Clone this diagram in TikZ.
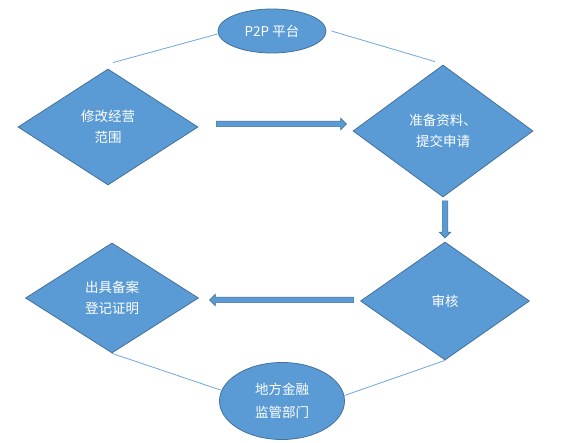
\documentclass[tikz,border=0pt]{standalone}
\usepackage{fontspec}
\newfontfamily\cjk{Noto Sans CJK SC}
\usetikzlibrary{shapes.geometric,shapes.arrows}
\definecolor{ShapeFill}{HTML}{5B9BD5}
\definecolor{ShapeEdge}{HTML}{41719C}
\definecolor{LinkLine}{HTML}{6FA6DC}

\begin{document}
\begin{tikzpicture}[x=1pt, y=-1pt,
		stage/.style={diamond, draw=ShapeEdge, fill=ShapeFill, line width=0.8pt, text=white, align=center, inner sep=0pt, font=\cjk\fontsize{13.5}{21}\selectfont},
		party/.style={ellipse, draw=ShapeEdge, fill=ShapeFill, line width=0.8pt, text=white, align=center, inner sep=0pt, font=\cjk\fontsize{13.5}{23}\selectfont},
		link/.style={LinkLine, line width=0.8pt},
		flow/.style={single arrow, draw=ShapeEdge, fill=ShapeFill, line width=0.6pt, inner sep=2.4pt, minimum width=11pt, single arrow head extend=3pt, single arrow head indent=0pt}]
		\useasboundingbox (0,0) rectangle (562,443);
		
		% Parties
		\node[party, minimum width=108pt, minimum height=44pt] (ptop) at (272,31) {P2P 平台};
		\node[party, minimum width=125pt, minimum height=77pt] (pbot) at (282,401) {地方金融\\监管部门};
		
		% Stages
		\node[stage, minimum width=180pt, minimum height=116pt] (xg) at (108,127) {修改经营\\范围};
		\node[stage, minimum width=180pt, minimum height=132pt] (zb) at (443,131) {准备资料、\\提交申请};
		\node[stage, minimum width=169pt, minimum height=118pt] (sh) at (445,301) {审核};
		\node[stage, minimum width=173pt, minimum height=110pt] (cj) at (112,298) {出具备案\\登记证明};
		
		% Links
		\draw[link] ([yshift=-3pt]ptop.west) -- ([shift={(5pt,6pt)}]xg.north);
		\draw[link] ([xshift=5pt]ptop.east) -- ([shift={(-8pt,3pt)}]zb.north);
		\draw[link] (cj.south) -- (pbot.170);
		\draw[link] (sh.south) -- (pbot.5);
		
		% Flow
		\node[flow, minimum height=130pt] (f1) at (280,124) {};
		\node[flow, minimum height=37pt, shape border rotate=270] (f2) at (445,218) {};
		\node[flow, minimum height=144pt, shape border rotate=180] (f3) at (283,300) {};
	\end{tikzpicture}
\end{document}
